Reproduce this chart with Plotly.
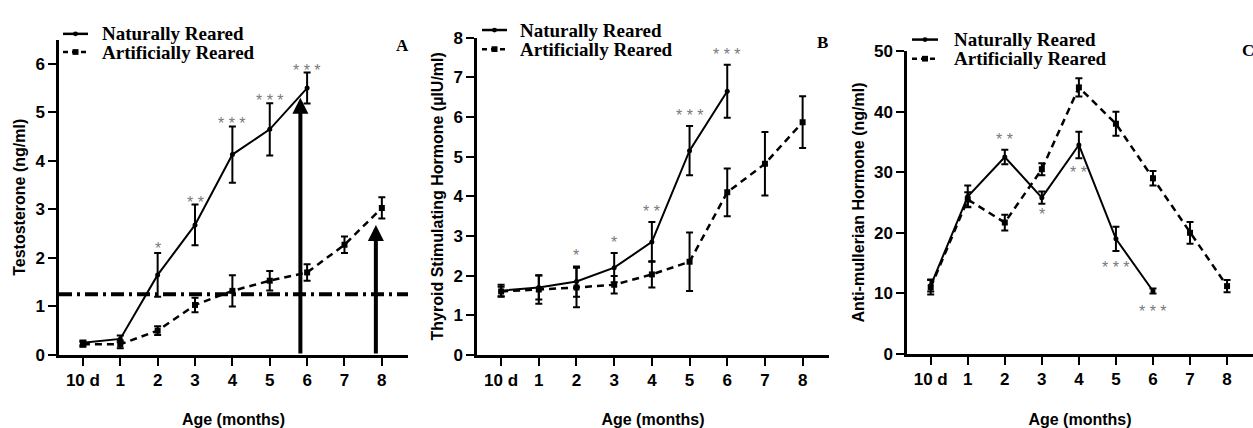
import numpy as np
import plotly.graph_objects as go

W, H = 1253, 428

ages = ["10 d", "1", "2", "3", "4", "5", "6", "7", "8"]
x_nat = [0, 1, 2, 3, 4, 5, 6]
x_art = [0, 1, 2, 3, 4, 5, 6, 7, 8]
series_names = ["Naturally Reared", "Artificially Reared"]

# Panel A: Testosterone (ng/ml)
testo_nat = [0.25, 0.33, 1.65, 2.68, 4.13, 4.65, 5.50]
testo_nat_err = [0.05, 0.07, 0.45, 0.42, 0.58, 0.54, 0.32]
testo_art = [0.22, 0.22, 0.50, 1.03, 1.32, 1.53, 1.70, 2.27, 3.03]
testo_art_err = [0.05, 0.08, 0.09, 0.15, 0.32, 0.20, 0.17, 0.17, 0.22]
testo_stars = ["", "", "*", "* *", "* * *", "* * *", "* * *"]
testo_threshold = 1.25
arrow_x = [5.82, 7.84]
arrow_top = [5.30, 2.68]

# Panel B: TSH (µIU/ml)
tsh_nat = [1.62, 1.70, 1.85, 2.20, 2.85, 5.15, 6.65]
tsh_nat_err = [0.15, 0.30, 0.38, 0.37, 0.50, 0.62, 0.67]
tsh_art = [1.60, 1.65, 1.70, 1.77, 2.03, 2.35, 4.10, 4.82, 5.87]
tsh_art_err = [0.12, 0.36, 0.50, 0.22, 0.33, 0.74, 0.60, 0.80, 0.65]
tsh_stars = ["", "", "*", "*", "* *", "* * *", "* * *"]

# Panel C: AMH (ng/ml)
amh_nat = [11.3, 26.0, 32.5, 25.8, 34.5, 19.0, 10.4]
amh_nat_err = [1.0, 1.8, 1.2, 1.0, 2.2, 2.0, 0.4]
amh_art = [11.0, 25.5, 21.7, 30.5, 44.0, 38.0, 29.0, 20.0, 11.2]
amh_art_err = [1.2, 1.2, 1.3, 1.0, 1.5, 2.0, 1.2, 1.8, 1.0]
amh_stars = ["", "", "* *", "*", "* *", "* * *", "* * *"]
amh_star_side = ["", "", "above", "below", "below", "below", "below"]

panels = [
    dict(key="", nat=testo_nat, ne=testo_nat_err, art=testo_art, ae=testo_art_err,
         stars=testo_stars, side=["above"] * 7, shift=[0, 0, -6, -8, -8, -8, -8],
         yr=[0, 6.5], dt=1, title="Testosterone (ng/ml)", letter="A",
         px=(59, 408), py=(32, 362), leg=(63, 88, 100, 26, 45), let=(402, 38)),
    dict(key="2", nat=tsh_nat, ne=tsh_nat_err, art=tsh_art, ae=tsh_art_err,
         stars=tsh_stars, side=["above"] * 7, shift=[0] * 7,
         yr=[0, 8], dt=1, title="Thyroid Stimulating Hormone (µIU/ml)", letter="B",
         px=(477, 829), py=(30, 362), leg=(482, 507, 518, 22, 42), let=(823, 35)),
    dict(key="3", nat=amh_nat, ne=amh_nat_err, art=amh_art, ae=amh_art_err,
         stars=amh_stars, side=amh_star_side, shift=[0, 0, 0, 0, -4, -6, -8],
         yr=[0, 50], dt=10, title="Anti-mullerian Hormone (ng/ml)", letter="C",
         px=(907, 1253), py=(44, 361), leg=(912, 938, 952, 32, 52), let=(1248, 43)),
]

fig = go.Figure()
BOLD_SANS = dict(family="Liberation Sans, Arial", size=17, color="black", weight="bold")
TITLE_SANS = dict(family="Liberation Sans, Arial", size=16, color="black", weight="bold")
SERIF = dict(family="Liberation Serif, Times New Roman", size=19, color="black", weight="bold")


def fx(px):
    return px / W


def fy(py):
    return 1 - py / H


annotations = []
shapes = []
layout_axes = {}
for i, p in enumerate(panels):
    k = p["key"]
    xa, ya = "x" + k, "y" + k
    fig.add_trace(go.Scatter(
        x=x_nat, y=p["nat"], name=series_names[0], xaxis=xa, yaxis=ya, showlegend=False,
        mode="lines+markers", line=dict(color="black", width=2),
        marker=dict(symbol="circle", size=5, color="black"),
        error_y=dict(type="data", array=p["ne"], color="black", thickness=2, width=3.5),
    ))
    fig.add_trace(go.Scatter(
        x=x_art, y=p["art"], name=series_names[1], xaxis=xa, yaxis=ya, showlegend=False,
        mode="lines+markers", line=dict(color="black", width=2.5, dash="7px,5px"),
        marker=dict(symbol="square", size=6, color="black"),
        error_y=dict(type="data", array=p["ae"], color="black", thickness=2, width=3.5),
    ))
    layout_axes["xaxis" + k] = dict(
        domain=[fx(p["px"][0]), fx(p["px"][1])], anchor=ya, range=[-0.64, 8.7],
        tickvals=list(range(9)), ticktext=ages,
        showgrid=False, zeroline=False, showline=True, linecolor="black", linewidth=2.5,
        ticks="outside", ticklen=8, tickwidth=2, tickcolor="black",
        tickfont=BOLD_SANS, title=dict(text="Age (months)", font=TITLE_SANS, standoff=26),
    )
    layout_axes["yaxis" + k] = dict(
        domain=[fy(p["py"][1]), fy(p["py"][0])], anchor=xa, range=p["yr"], dtick=p["dt"],
        showgrid=False, zeroline=False, showline=True, linecolor="black", linewidth=2.5,
        ticks="outside", ticklen=8, tickwidth=2, tickcolor="black",
        tickfont=BOLD_SANS, title=dict(text=p["title"], font=TITLE_SANS, standoff=6),
    )
    # manual legend
    lx0, lx1, tx, r1, r2 = p["leg"]
    mid = (lx0 + lx1) / 2
    for row, dash, sym in ((r1, "solid", "circle"), (r2, "5px,4px", "rect")):
        shapes.append(dict(type="line", xref="paper", yref="paper",
                           x0=fx(lx0), x1=fx(lx1), y0=fy(row), y1=fy(row),
                           line=dict(color="black", width=2.5, dash=dash)))
        r = 2.5 if sym == "circle" else 3
        shapes.append(dict(type=sym, xref="paper", yref="paper",
                           x0=fx(mid - r), x1=fx(mid + r), y0=fy(row + r), y1=fy(row - r),
                           fillcolor="black", line=dict(color="black", width=0)))
    for row, name in zip((r1, r2), series_names):
        annotations.append(dict(
            x=fx(tx), y=fy(row), xref="paper", yref="paper", text=name, showarrow=False,
            xanchor="left", yanchor="middle", font=SERIF,
        ))
    # significance stars
    for j, s in enumerate(p["stars"]):
        if not s:
            continue
        if p["side"][j] == "above":
            yv = p["nat"][j] + p["ne"][j]
            yanc = "bottom"
        else:
            yv = p["nat"][j] - p["ne"][j]
            yanc = "top"
        annotations.append(dict(
            x=x_nat[j], y=yv, xref=xa, yref=ya, text=s, showarrow=False,
            yanchor=yanc, yshift=p["shift"][j],
            font=dict(family="Liberation Sans", size=16, color="#7a7a7a"),
        ))
    annotations.append(dict(
        x=fx(p["let"][0]), y=fy(p["let"][1]), xref="paper", yref="paper",
        text=p["letter"], showarrow=False, xanchor="center", yanchor="middle",
        font=dict(family="Liberation Serif", size=17, color="black", weight="bold"),
    ))

# arrows in panel A
for ax_, top in zip(arrow_x, arrow_top):
    annotations.append(dict(
        x=ax_, y=top, ax=ax_, ay=0, xref="x", yref="y", axref="x", ayref="y",
        text="", showarrow=True, arrowhead=2, arrowsize=0.8, arrowwidth=4, arrowcolor="black",
    ))

shapes.append(dict(
    type="line", xref="x domain", yref="y", x0=0, x1=1, y0=testo_threshold, y1=testo_threshold,
    line=dict(color="black", width=4, dash="13px,5px,3px,5px"),
))

fig.update_layout(
    width=W, height=H, margin=dict(l=0, r=0, t=0, b=0),
    paper_bgcolor="white", plot_bgcolor="white", showlegend=False,
    annotations=annotations, shapes=shapes, **layout_axes,
)

fig.write_html("out.html")
